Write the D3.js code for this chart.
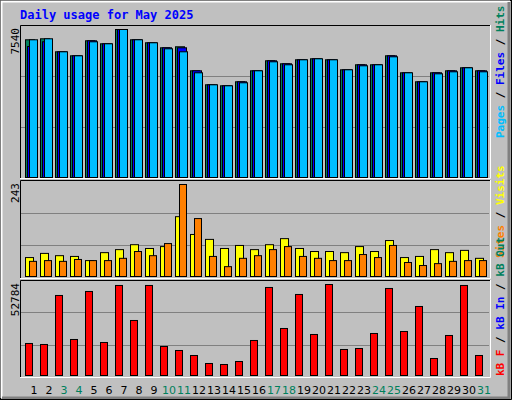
<!DOCTYPE html>
<html><head><meta charset="utf-8">
<script src="https://cdn.jsdelivr.net/npm/d3@7"></script>
<style>body{margin:0;background:#fff}svg{display:block}</style>
</head><body><svg id="c" width="512" height="400"></svg>
<script>
const days = d3.range(1, 32);
const weekend = [3,4,10,11,17,18,24,25,31];
const hits  = [7016,7067,6404,6200,6965,6812,7540,7016,6863,6608,6659,5436,4723,4672,4876,5436,5946,5793,5997,6048,5997,5487,5742,5742,6200,5334,4876,5334,5436,5589,5436];
const files = [6674,6914,6404,6200,6965,6812,7540,7016,6863,6608,6608,5436,4723,4672,4876,5436,5946,5793,5997,6048,5997,5487,5742,5742,6200,5334,4876,5334,5436,5589,5436];
const pages = [7016,7067,6404,6200,6914,6812,7540,7016,6863,6557,6404,5334,4723,4672,4825,5436,5895,5742,5997,6048,5997,5487,5691,5742,6149,5334,4876,5283,5385,5589,5385];
const visits = [50,61,55,53,42,63,71,84,74,79,158,111,98,74,82,71,84,100,74,66,66,63,79,66,95,50,53,71,63,69,48];
const sites  = [40,42,40,45,42,42,48,66,55,87,243,153,53,26,48,55,71,79,53,48,42,42,58,50,82,37,29,34,40,42,42];
const kbytes = [18566,17986,46416,20887,48737,19147,52218,31911,52218,16826,14505,11604,6962,6382,8123,20307,51058,27269,46996,23788,52784,15085,15665,24368,50477,25529,40034,9863,23208,52218,11604];
const maxTop = 7540, maxMid = 243, maxBot = 52784;

const svg = d3.select('#c');
const mono = "'DejaVu Sans Mono', monospace";
// background & bevels
svg.append('rect').attr('width',512).attr('height',400).attr('fill','#c0c0c0');
svg.append('path').attr('d','M0.5,399.5V0.5H511.5').attr('stroke','#000').attr('fill','none');
svg.append('path').attr('d','M1.5,398V1.5H510').attr('stroke','#fff').attr('stroke-width',2).attr('fill','none');
svg.append('path').attr('d','M509,2V398H2').attr('stroke','#808080').attr('stroke-width',3).attr('fill','none');
svg.append('path').attr('d','M511.5,0V399.5H0').attr('stroke','#000').attr('fill','none');

svg.append('text').attr('x',20).attr('y',19).text('Daily usage for May 2025')
  .attr('font-family',mono).attr('font-size',12).attr('font-weight','bold').attr('fill','#0000ff');

const x = d3.scaleLinear().domain([1,31]).range([25, 25+30*15]);
const L = 20, R = 490;

function panel(top, bottom){
  svg.append('rect').attr('x',L).attr('y',top).attr('width',R-L).attr('height',bottom-top).attr('fill','#c0c0c0');
  const h = bottom-top;
  [1/3,2/3].forEach(f=>svg.append('line').attr('x1',L+1).attr('x2',R-1)
     .attr('y1',Math.round(top+h*f)+0.5).attr('y2',Math.round(top+h*f)+0.5).attr('stroke','#808080'));
}
function frame(top,bottom){
  svg.append('path').attr('d',`M${L+0.5},${bottom}V${top+0.5}H${R}`).attr('stroke','#000').attr('fill','none');
  svg.append('path').attr('d',`M${R+0.5},${top}V${bottom+0.5}H${L}`).attr('stroke','#fff').attr('fill','none');
}
function bars(data, y, dx, w, color){
  svg.append('g').selectAll('rect').data(data).join('rect')
    .attr('x',(d,i)=>x(days[i])+dx+0.5).attr('y',d=>y(d)+0.5)
    .attr('width',w).attr('height',d=>y(0)-y(d))
    .attr('fill',color).attr('stroke','#000');
}
function ylab(txt, top){
  svg.append('text').attr('transform',`translate(19,${top+3}) rotate(-90)`).attr('text-anchor','end')
    .attr('font-family',mono).attr('font-size',11).attr('fill','#000').text(txt);
}
function rlab(parts, yStart){
  const t = svg.append('text').attr('transform',`translate(504,${yStart}) rotate(-90)`)
    .attr('font-family',mono).attr('font-size',11).attr('font-weight','bold');
  parts.forEach(p=>t.append('tspan').attr('fill',p[1]).text(p[0]));
}

// top
panel(25,178);
const yT = d3.scaleLinear().domain([0,maxTop]).range([177,29]);
bars(hits, yT, 0, 9, '#00805c');
bars(files, yT, 2, 9, '#0000ff');
bars(pages, yT, 4, 8, '#00bfff');
frame(25,178);
ylab(String(maxTop), 25);
rlab([['Pages','#00bfff'],[' / ','#000'],['Files','#0000ff'],[' / ','#000'],['Hits','#00805c']], 138);

// middle
panel(180,278);
const yM = d3.scaleLinear().domain([0,maxMid]).range([276,184]);
bars(visits, yM, 0, 8, '#ffff00');
bars(sites, yM, 4, 7, '#ff8000');
frame(180,278);
ylab(String(maxMid), 180);
rlab([['Sites','#ff8000'],[' / ','#000'],['Visits','#ffff00']], 258);

// bottom
panel(280,377);
const yB = d3.scaleLinear().domain([0,maxBot]).range([375,284]);
bars(kbytes, yB, 0, 7, '#ff0000');
frame(280,377);
ylab(String(maxBot), 280);
rlab([['kB F','#ff0000'],[' / ','#000'],['kB In','#0000ff'],[' / ','#000'],['kB Out','#00805c']], 376);

// day labels
svg.append('g').selectAll('text').data(days).join('text')
  .attr('x',d=>x(d)+9).attr('y',394).attr('text-anchor','middle')
  .attr('font-family',"'DejaVu Sans', sans-serif").attr('font-size',11)
  .attr('fill',d=>weekend.includes(d)?'#00805c':'#000').text(d=>d);
</script></body></html>
